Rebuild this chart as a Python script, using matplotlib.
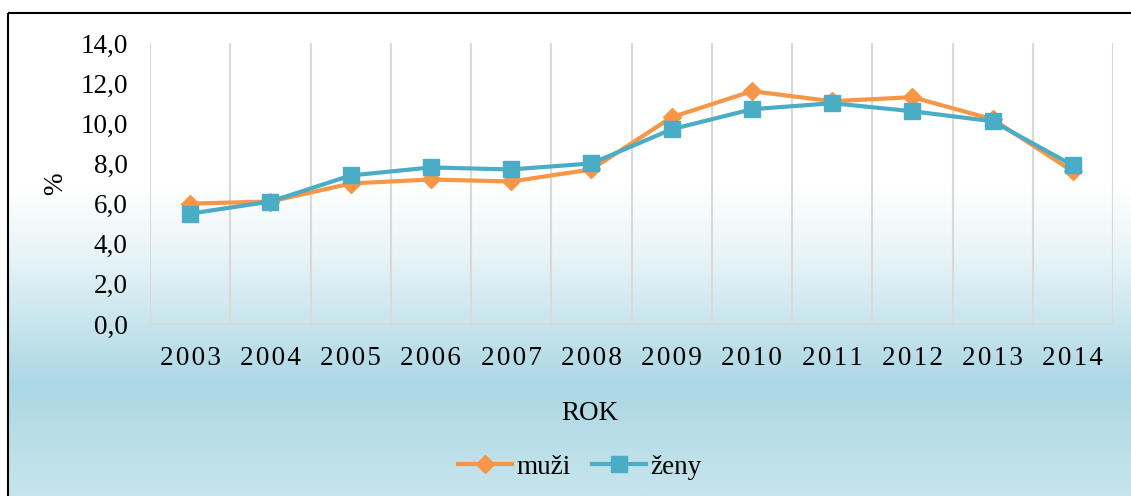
import numpy as np
import matplotlib
matplotlib.use("Agg")
import matplotlib.pyplot as plt
from matplotlib.colors import LinearSegmentedColormap
from matplotlib.patches import Rectangle

plt.rcParams['font.family'] = ['Liberation Serif', 'DejaVu Serif']

# -----------------------------
# Data
# -----------------------------
years = ["2003", "2004", "2005", "2006", "2007", "2008",
         "2009", "2010", "2011", "2012", "2013", "2014"]
muzi = [6.0, 6.1, 7.0, 7.2, 7.1, 7.7, 10.3, 11.6, 11.1, 11.3, 10.2, 7.6]
zeny = [5.5, 6.1, 7.4, 7.8, 7.7, 8.0, 9.7, 10.7, 11.0, 10.6, 10.1, 7.9]
y_ticks = [0, 2, 4, 6, 8, 10, 12, 14]

W, H = 1131, 496
FS = 19.5
fig = plt.figure(figsize=(W / 100, H / 100), dpi=100)
fig.patch.set_facecolor("white")

# -----------------------------
# Background gradient + frame
# -----------------------------
bg = fig.add_axes([0, 0, 1, 1], zorder=-10)
bg.set_xlim(0, W)
bg.set_ylim(H, 0)
bg.axis("off")
grad = LinearSegmentedColormap.from_list(
    "bg", [(0.0, "#ffffff"), (0.36, "#ffffff"), (0.50, "#e8f4f7"),
           (0.77, "#acd7e4"), (1.0, "#c6e5ec")])
g = np.linspace(0, 1, 400).reshape(-1, 1)
bg.imshow(g, cmap=grad, aspect="auto", extent=[8, W, H, 13], interpolation="bilinear")
bg.add_patch(Rectangle((8, 13), W + 10, H + 10, fill=False, edgecolor="black", linewidth=1.5))

# -----------------------------
# Main plot
# -----------------------------
ax = fig.add_axes([150 / W, (H - 324) / H, 963 / W, 281 / H])
ax.set_facecolor("none")
x = np.arange(len(years)) + 0.5

ax.plot(x, muzi, color="#f79646", linewidth=3, marker="D", markersize=9,
        label="muži", zorder=3)
ax.plot(x, zeny, color="#4bacc6", linewidth=3, marker="s", markersize=12,
        label="ženy", zorder=4)

ax.set_xlim(0, len(years))
ax.set_ylim(0, 14)
ax.set_yticks(y_ticks)
ax.set_yticklabels([f"{v:.1f}".replace(".", ",") for v in y_ticks], fontsize=FS)
ax.set_xticks(x)
ax.set_xticklabels(["\u200a".join(y) for y in years], fontsize=FS)
ax.set_xticks(np.arange(len(years) + 1), minor=True)
ax.tick_params(axis="both", which="both", length=0)
ax.tick_params(axis="y", pad=16)
ax.tick_params(axis="x", pad=16)
ax.grid(True, which="minor", axis="x", color="#d9d9d9", linewidth=1.5)
for s in ["top", "right", "left"]:
    ax.spines[s].set_visible(False)
ax.spines["bottom"].set_color("#d9d9d9")
ax.spines["bottom"].set_linewidth(1.5)

ax.set_ylabel("%", fontsize=FS, labelpad=9)
fig.text(590 / W, 1 - 413 / H, "ROK", fontsize=FS, ha="center", va="center")

fig.legend(loc="center", bbox_to_anchor=(580 / W, 1 - 467 / H), ncol=2,
           frameon=False, fontsize=FS, handlelength=2.0, handletextpad=0.15,
           columnspacing=0.8)

fig.savefig("out.png", dpi=100)
